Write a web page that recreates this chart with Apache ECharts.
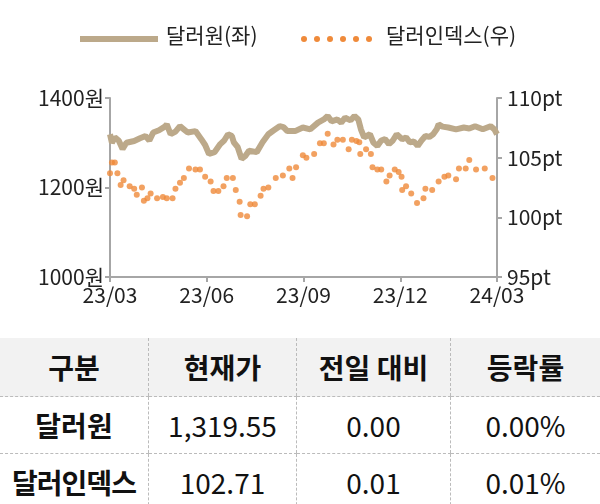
<!DOCTYPE html>
<html>
<head>
<meta charset="UTF-8">
<script src="https://cdn.jsdelivr.net/npm/echarts@6/dist/echarts.min.js"></script>
<style>
  body { margin:0; width:600px; height:504px; background:#fff; overflow:hidden; font-family:"Noto Sans CJK KR", sans-serif; }
  #chart { width:600px; height:330px; }
  table { position:absolute; left:0; top:338px; width:600px; border-collapse:collapse; font-size:28px; color:#111; }
  td { text-align:center; height:56px; padding:0; border-left:1px dashed #bbb; border-bottom:1px dashed #bbb; }
  td:first-child { border-left:none; }
  tr.head td { background:#f2f2f2; font-weight:bold; height:58px; }
  td.lab { font-weight:bold; }
</style>
</head>
<body>
<div id="chart"></div>
<table>
  <tr class="head"><td style="width:148px">구분</td><td style="width:147px">현재가</td><td style="width:153px">전일 대비</td><td>등락률</td></tr>
  <tr><td class="lab">달러원</td><td>1,319.55</td><td>0.00</td><td>0.00%</td></tr>
  <tr><td class="lab" style="white-space:nowrap;letter-spacing:-1px">달러인덱스</td><td>102.71</td><td>0.01</td><td>0.01%</td></tr>
</table>
<script>
// x 위치는 23/03 기준 경과 개월
var tickLabels = ['23/03', '23/06', '23/09', '23/12', '24/03'];
var krwX = [0,.06,.15,.27,.39,.51,.75,.93,1.10,1.22,1.34,1.52,1.70,1.76,1.88,2.03,2.17,2.29,2.41,2.65,2.83,2.95,3.07,3.24,3.42,3.54,3.66,3.78,3.84,3.96,4.08,4.19,4.31,4.55,4.73,4.91,5.08,5.26,5.38,5.50,5.74,5.98,6.21,6.45,6.63,6.75,6.87,7.05,7.17,7.29,7.46,7.58,7.70,7.78,7.88,8.06,8.17,8.29,8.41,8.53,8.65,8.77,8.89,9.06,9.18,9.30,9.42,9.54,9.66,9.78,9.90,10.02,10.13,10.19,10.31,10.49,10.73,10.97,11.14,11.32,11.56,11.80,11.92,12];
var krwY = [1319,1300,1312,1305,1286,1300,1304,1310,1315,1305,1323,1328,1336,1341,1319,1325,1337,1330,1323,1326,1308,1295,1275,1279,1297,1305,1319,1315,1301,1290,1264,1270,1282,1279,1301,1319,1328,1337,1335,1326,1326,1334,1330,1345,1352,1360,1348,1352,1345,1356,1350,1360,1352,1330,1312,1319,1300,1293,1305,1308,1297,1305,1319,1308,1312,1301,1303,1293,1305,1315,1313,1319,1330,1341,1336,1334,1330,1334,1332,1337,1330,1337,1330,1319];
var dxyX = [0,.06,.15,.23,.33,.42,.61,.75,.83,.99,1.05,1.16,1.26,1.46,1.64,1.76,1.94,2.03,2.17,2.29,2.45,2.65,2.79,2.95,3.12,3.21,3.36,3.52,3.62,3.81,3.90,4.02,4.05,4.25,4.35,4.49,4.67,4.76,4.91,5.14,5.36,5.56,5.66,5.77,5.98,6.09,6.33,6.51,6.63,6.75,6.93,7.05,7.22,7.40,7.50,7.64,7.73,7.76,7.94,8.09,8.14,8.29,8.41,8.57,8.67,8.83,8.95,9.04,9.06,9.18,9.34,9.52,9.72,9.78,9.99,10.19,10.37,10.49,10.73,10.82,11.03,11.14,11.35,11.62,11.86];
var dxyY = [103.7,104.6,104.6,103.7,102.7,103.1,102.6,102.4,101.9,102.5,101.4,101.6,102.0,101.6,101.7,101.6,101.6,102.4,102.9,103.3,104.1,104.0,104.0,103.4,103.0,102.2,102.2,102.6,103.3,103.3,102.3,101.3,100.2,100.1,101.1,101.1,101.8,102.4,102.5,103.3,103.5,104.1,103.3,104.2,105.2,105.0,105.3,106.2,106.2,107.0,106.1,106.5,106.5,105.7,106.5,106.4,106.3,105.3,105.7,105.3,104.2,104.0,104.0,103.0,103.5,104.0,103.8,103.4,102.3,102.6,102.0,101.2,101.6,102.4,102.3,103.0,103.4,103.5,103.2,104.1,104.1,104.8,104.0,104.1,103.3];

var tan = '#bca98a', orange = '#ef8a3a';
var font = '"Noto Sans CJK KR", sans-serif';
var chart = echarts.init(document.getElementById('chart'));
var axisStyle = { lineStyle: { color: '#a6a6a6', width: 2 } };
var tickStyle = { show: true, length: 5, lineStyle: { color: '#a6a6a6', width: 2 } };
var legendDots = [];
for (var i = 0; i < 6; i++) {
  legendDots.push({ type: 'circle', shape: { cx: 304 + i * 13, cy: 39, r: 3 }, style: { fill: orange } });
}
chart.setOption({
  animation: false,
  textStyle: { fontFamily: font },
  grid: { left: 110, right: 103, top: 98, bottom: 53 },
  graphic: [
    { type: 'line', shape: { x1: 80, y1: 39, x2: 158, y2: 39 }, style: { stroke: tan, lineWidth: 6 } },
    { type: 'text', left: 166, top: 25, style: { text: '달러원(좌)', fontSize: 21, fontFamily: font, fill: '#222' } },
    { type: 'text', left: 386, top: 25, style: { text: '달러인덱스(우)', fontSize: 21, fontFamily: font, fill: '#222' } }
  ].concat(legendDots),
  xAxis: {
    type: 'value', min: 0, max: 12, interval: 3,
    axisLine: axisStyle, axisTick: tickStyle, splitLine: { show: false },
    axisLabel: { fontSize: 21, color: '#222', margin: 8, formatter: function (v) { return tickLabels[v / 3]; } }
  },
  yAxis: [
    { type: 'value', min: 1000, max: 1400, interval: 200, axisLine: Object.assign({ show: true }, axisStyle),
      axisTick: tickStyle, splitLine: { show: false },
      axisLabel: { fontSize: 21, color: '#222', margin: 6, formatter: function (v) { return v + '원'; } } },
    { type: 'value', min: 95, max: 110, interval: 5, axisLine: Object.assign({ show: true }, axisStyle),
      axisTick: tickStyle, splitLine: { show: false },
      axisLabel: { fontSize: 21, color: '#222', margin: 10, formatter: function (v) { return v + 'pt'; } } }
  ],
  series: [
    { type: 'line', yAxisIndex: 0, showSymbol: false, data: krwX.map(function (x, i) { return [x, krwY[i]]; }),
      lineStyle: { color: tan, width: 6 } },
    { type: 'scatter', yAxisIndex: 1, symbolSize: 6, data: dxyX.map(function (x, i) { return [x, dxyY[i]]; }),
      itemStyle: { color: orange } }
  ]
});
</script>
</body>
</html>
